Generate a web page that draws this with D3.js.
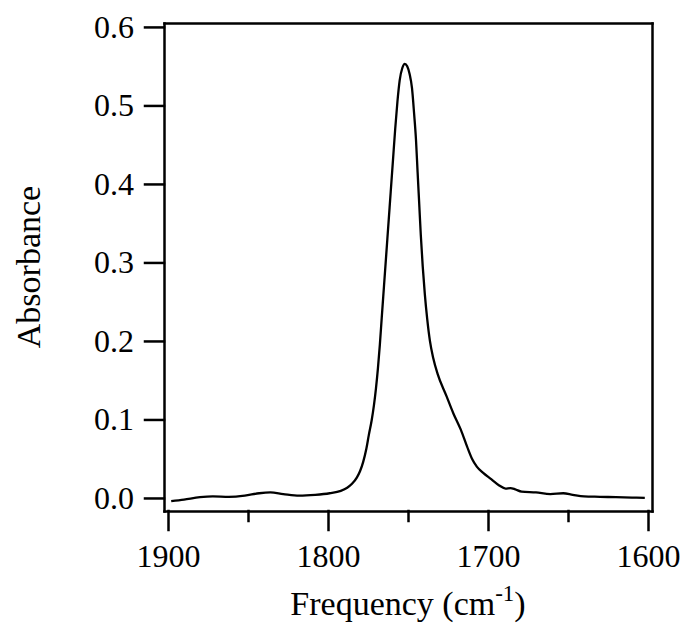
<!DOCTYPE html>
<html>
<head>
<meta charset="utf-8">
<script src="https://cdn.jsdelivr.net/npm/d3@7"></script>
<style>
  body { margin: 0; background: #fff; }
  text { font-family: "Liberation Serif", serif; fill: #000; }
</style>
</head>
<body>
<script>
// DATA
const freq = [1898, 1890, 1880, 1872, 1862, 1852, 1843, 1836, 1828, 1818, 1808, 1799, 1792, 1788, 1785,
  1782, 1780, 1778, 1776, 1774.5, 1772.7, 1771.3, 1770, 1768.8, 1767.6, 1766.4, 1765, 1763.6,
  1762.2, 1760.8, 1759.4, 1758, 1756.6, 1755.2, 1753.5, 1752, 1750.5, 1749, 1747.5, 1746.2, 1745, 1744, 1743,
  1742, 1740.8, 1739.5, 1738, 1736.3, 1734.2, 1731.5, 1726, 1721.7, 1717, 1713, 1710, 1707, 1703, 1698, 1693, 1689,
  1686, 1683, 1679, 1670, 1661, 1653, 1647, 1640, 1630, 1620, 1610, 1602];
const absorbance = [-0.004, -0.002, 0.001, 0.002, 0.0015, 0.003, 0.006, 0.007, 0.005, 0.003, 0.004, 0.006, 0.009, 0.013, 0.018,
  0.026, 0.034, 0.046, 0.063, 0.08, 0.099, 0.118, 0.14, 0.165, 0.195, 0.23, 0.27, 0.31,
  0.35, 0.39, 0.43, 0.47, 0.505, 0.532, 0.548, 0.553, 0.55, 0.54, 0.522, 0.49, 0.456, 0.415, 0.375,
  0.335, 0.295, 0.26, 0.228, 0.2, 0.178, 0.158, 0.13, 0.108, 0.087, 0.065, 0.05, 0.04, 0.032, 0.024, 0.016, 0.012,
  0.0125, 0.011, 0.008, 0.007, 0.005, 0.006, 0.004, 0.002, 0.0015, 0.001, 0.0005, 0.0];
const xMajor = [1900, 1800, 1700, 1600];
const xMinor = [1850, 1750, 1650];
const yTicks = [0, 0.1, 0.2, 0.3, 0.4, 0.5, 0.6];

const spectrum = freq.map((f, i) => ({f: f, a: absorbance[i]}));

// svg + frame
const svg = d3.select("body").append("svg")
    .attr("width", 687)
    .attr("height", 630);

const frame = {left: 164, right: 652, top: 23, bottom: 511};

const x = d3.scaleLinear().domain([1902.5, 1597.5]).range([frame.left, frame.right]);
const y = d3.scaleLinear().domain([-0.0166, 0.605]).range([frame.bottom, frame.top]);

// axes
svg.append("g")
    .attr("transform", "translate(" + frame.left + ",0)")
    .call(d3.axisLeft(y).tickValues(yTicks).tickFormat(d3.format(".1f"))
      .tickSize(19).tickSizeOuter(0).tickPadding(11));

svg.append("g")
    .attr("transform", "translate(0," + frame.bottom + ")")
    .call(d3.axisBottom(x).tickValues(xMajor).tickFormat(d3.format("d"))
      .tickSize(19).tickSizeOuter(0).tickPadding(14));

svg.append("g")
    .attr("transform", "translate(0," + frame.bottom + ")")
    .call(d3.axisBottom(x).tickValues(xMinor).tickFormat("").tickSize(10))
    .call(g => g.select(".domain").remove());

// top and right frame
svg.append("g")
    .attr("transform", "translate(0," + frame.top + ")")
    .call(d3.axisTop(x).tickValues([]).tickSizeOuter(0));
svg.append("g")
    .attr("transform", "translate(" + frame.right + ",0)")
    .call(d3.axisRight(y).tickValues([]).tickSizeOuter(0));

svg.selectAll(".domain, .tick line")
    .attr("stroke", "#000")
    .attr("stroke-width", 2.5)
    .attr("stroke-linecap", "square");
svg.selectAll(".tick text").attr("font-size", 32);

// spectrum
const line = d3.line()
    .x(d => x(d.f))
    .y(d => y(d.a))
    .curve(d3.curveMonotoneX);

svg.append("path")
    .datum(spectrum)
    .attr("d", line)
    .attr("fill", "none")
    .attr("stroke", "#000")
    .attr("stroke-width", 2.3)
    .attr("stroke-linejoin", "round");

// titles
svg.append("text")
    .attr("transform", "translate(40," + (frame.top + frame.bottom) / 2 + ") rotate(-90)")
    .attr("text-anchor", "middle")
    .attr("font-size", 34)
    .text("Absorbance");

const xt = svg.append("text")
    .attr("x", (frame.left + frame.right) / 2)
    .attr("y", 615)
    .attr("text-anchor", "middle")
    .attr("font-size", 34);
xt.append("tspan").text("Frequency (cm");
xt.append("tspan").attr("font-size", 23).attr("dy", -14).text("-1");
xt.append("tspan").attr("dy", 14).text(")");
</script>
</body>
</html>
